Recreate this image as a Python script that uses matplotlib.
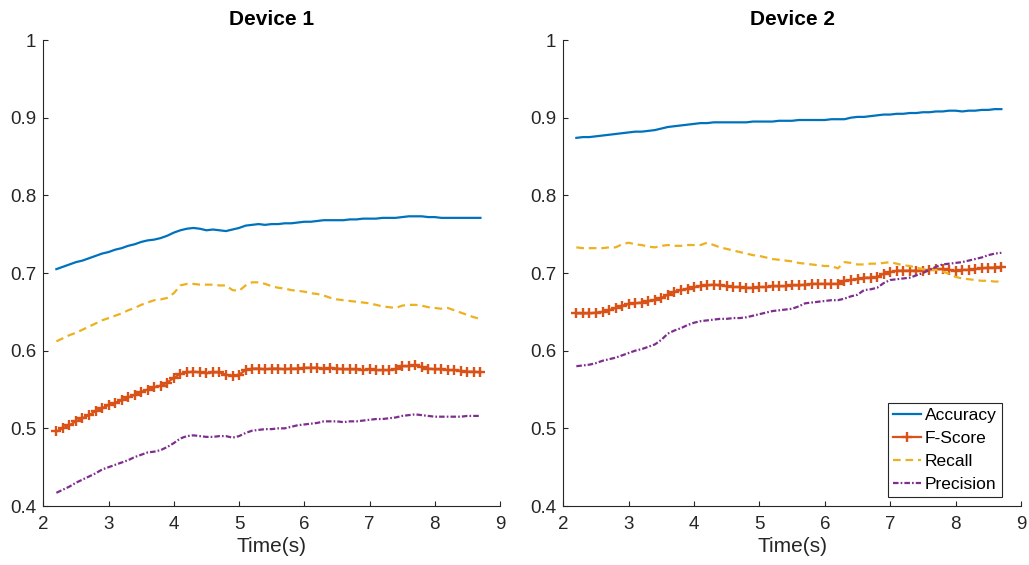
import numpy as np
import matplotlib
matplotlib.use("Agg")
import matplotlib.pyplot as plt

plt.rcParams["font.family"] = ["Liberation Sans", "DejaVu Sans"]
plt.rcParams["lines.scale_dashes"] = False

# sample times (s)
time = np.round(np.arange(2.2, 8.75, 0.1), 1)

# Device 1
acc1 = [0.705, 0.708, 0.711, 0.714, 0.716, 0.719, 0.722, 0.725, 0.727, 0.730,
        0.732, 0.735, 0.737, 0.740, 0.742, 0.743, 0.745, 0.748, 0.752, 0.755,
        0.757, 0.758, 0.757, 0.755, 0.756, 0.755, 0.754, 0.756, 0.758, 0.761,
        0.762, 0.763, 0.762, 0.763, 0.763, 0.764, 0.764, 0.765, 0.766, 0.766,
        0.767, 0.768, 0.768, 0.768, 0.768, 0.769, 0.769, 0.770, 0.770, 0.770,
        0.771, 0.771, 0.771, 0.772, 0.773, 0.773, 0.773, 0.772, 0.772, 0.771,
        0.771, 0.771, 0.771, 0.771, 0.771, 0.771]
fs1 = [0.496, 0.500, 0.504, 0.509, 0.513, 0.517, 0.522, 0.526, 0.530, 0.533,
       0.536, 0.540, 0.543, 0.547, 0.550, 0.553, 0.555, 0.559, 0.565, 0.570,
       0.572, 0.573, 0.572, 0.571, 0.572, 0.572, 0.569, 0.568, 0.569, 0.575,
       0.577, 0.577, 0.576, 0.577, 0.577, 0.576, 0.577, 0.577, 0.578, 0.578,
       0.578, 0.577, 0.578, 0.577, 0.576, 0.576, 0.576, 0.575, 0.576, 0.575,
       0.575, 0.575, 0.576, 0.580, 0.580, 0.581, 0.579, 0.577, 0.576, 0.576,
       0.575, 0.575, 0.574, 0.573, 0.573, 0.572]
rec1 = [0.612, 0.616, 0.620, 0.623, 0.627, 0.631, 0.635, 0.639, 0.642, 0.645,
        0.648, 0.652, 0.655, 0.659, 0.662, 0.665, 0.666, 0.668, 0.674, 0.684,
        0.686, 0.686, 0.685, 0.685, 0.685, 0.684, 0.684, 0.678, 0.677, 0.684,
        0.688, 0.688, 0.686, 0.683, 0.681, 0.680, 0.678, 0.677, 0.676, 0.674,
        0.673, 0.671, 0.668, 0.666, 0.665, 0.664, 0.663, 0.662, 0.661, 0.659,
        0.657, 0.656, 0.655, 0.658, 0.659, 0.659, 0.658, 0.656, 0.655, 0.654,
        0.655, 0.652, 0.649, 0.646, 0.643, 0.641]
pre1 = [0.417, 0.421, 0.425, 0.430, 0.434, 0.438, 0.442, 0.447, 0.450, 0.453,
        0.456, 0.459, 0.463, 0.466, 0.469, 0.470, 0.472, 0.476, 0.481, 0.487,
        0.490, 0.491, 0.490, 0.489, 0.489, 0.490, 0.490, 0.488, 0.490, 0.494,
        0.497, 0.498, 0.499, 0.499, 0.500, 0.500, 0.502, 0.504, 0.505, 0.506,
        0.507, 0.509, 0.509, 0.509, 0.508, 0.509, 0.509, 0.510, 0.511, 0.512,
        0.512, 0.513, 0.514, 0.516, 0.517, 0.518, 0.517, 0.516, 0.515, 0.515,
        0.515, 0.515, 0.515, 0.516, 0.516, 0.516]

# Device 2
acc2 = [0.874, 0.875, 0.875, 0.876, 0.877, 0.878, 0.879, 0.880, 0.881, 0.882,
        0.882, 0.883, 0.884, 0.886, 0.888, 0.889, 0.890, 0.891, 0.892, 0.893,
        0.893, 0.894, 0.894, 0.894, 0.894, 0.894, 0.894, 0.895, 0.895, 0.895,
        0.895, 0.896, 0.896, 0.896, 0.897, 0.897, 0.897, 0.897, 0.897, 0.898,
        0.898, 0.898, 0.900, 0.901, 0.901, 0.902, 0.903, 0.904, 0.904, 0.905,
        0.905, 0.906, 0.906, 0.907, 0.907, 0.908, 0.908, 0.909, 0.909, 0.908,
        0.909, 0.909, 0.910, 0.910, 0.911, 0.911]
fs2 = [0.648, 0.648, 0.648, 0.649, 0.650, 0.652, 0.655, 0.658, 0.660, 0.661,
       0.662, 0.664, 0.665, 0.668, 0.672, 0.676, 0.678, 0.680, 0.682, 0.683,
       0.684, 0.685, 0.684, 0.683, 0.682, 0.682, 0.681, 0.681, 0.682, 0.682,
       0.683, 0.683, 0.683, 0.684, 0.684, 0.685, 0.686, 0.686, 0.686, 0.686,
       0.686, 0.690, 0.691, 0.692, 0.694, 0.694, 0.695, 0.699, 0.701, 0.703,
       0.703, 0.703, 0.703, 0.703, 0.704, 0.705, 0.705, 0.704, 0.703, 0.704,
       0.704, 0.705, 0.706, 0.707, 0.707, 0.708]
rec2 = [0.733, 0.732, 0.732, 0.732, 0.732, 0.733, 0.733, 0.737, 0.739, 0.737,
        0.736, 0.734, 0.733, 0.735, 0.736, 0.735, 0.735, 0.736, 0.736, 0.736,
        0.739, 0.736, 0.733, 0.731, 0.729, 0.727, 0.725, 0.723, 0.722, 0.720,
        0.718, 0.717, 0.716, 0.715, 0.713, 0.712, 0.711, 0.710, 0.709, 0.709,
        0.706, 0.714, 0.713, 0.711, 0.711, 0.712, 0.712, 0.713, 0.714, 0.712,
        0.710, 0.709, 0.707, 0.705, 0.704, 0.704, 0.702, 0.699, 0.695, 0.693,
        0.692, 0.691, 0.690, 0.690, 0.689, 0.689]
pre2 = [0.580, 0.581, 0.582, 0.584, 0.587, 0.589, 0.591, 0.594, 0.597, 0.600,
        0.602, 0.605, 0.608, 0.614, 0.622, 0.626, 0.629, 0.633, 0.636, 0.638,
        0.639, 0.640, 0.641, 0.641, 0.642, 0.642, 0.643, 0.645, 0.647, 0.649,
        0.651, 0.652, 0.653, 0.654, 0.657, 0.661, 0.662, 0.663, 0.664, 0.665,
        0.665, 0.667, 0.670, 0.672, 0.678, 0.679, 0.681, 0.687, 0.691, 0.692,
        0.693, 0.694, 0.697, 0.700, 0.704, 0.708, 0.711, 0.712, 0.713, 0.714,
        0.716, 0.718, 0.720, 0.723, 0.725, 0.726]

devices = ["Device 1", "Device 2"]
series = [(acc1, fs1, rec1, pre1), (acc2, fs2, rec2, pre2)]
names = ["Accuracy", "F-Score", "Recall", "Precision"]

ink = "#262626"
fig = plt.figure(figsize=(10.29, 5.65), dpi=100)
boxes = [[0.0421, 0.1044, 0.4438, 0.8248], [0.5474, 0.1044, 0.4448, 0.8248]]

for box, title, (acc, fs, rec, pre) in zip(boxes, devices, series):
    ax = fig.add_axes(box)
    ax.plot(time, acc, color="#0072BD", lw=1.6, label=names[0])
    ax.plot(time, fs, color="#D95319", lw=1.6, marker="+", ms=7, mew=1.7,
            label=names[1])
    ax.plot(time, rec, color="#EDB120", lw=1.6, dashes=(5.5, 3.5),
            label=names[2])
    ax.plot(time, pre, color="#7E2F8E", lw=1.6, dashes=(4, 1.5, 1.2, 1.5),
            label=names[3])
    ax.set_xlim(2, 9)
    ax.set_ylim(0.4, 1)
    ax.set_xticks(range(2, 10))
    ax.set_yticks([0.4, 0.5, 0.6, 0.7, 0.8, 0.9, 1.0])
    ax.set_yticklabels(["0.4", "0.5", "0.6", "0.7", "0.8", "0.9", "1"])
    ax.spines["top"].set_visible(False)
    ax.spines["right"].set_visible(False)
    for s in ("left", "bottom"):
        ax.spines[s].set_color(ink)
        ax.spines[s].set_linewidth(0.8)
    ax.tick_params(direction="in", length=3.5, width=0.8, colors=ink,
                   labelsize=13.5)
    ax.tick_params(axis="x", pad=7)
    ax.tick_params(axis="y", pad=5)
    ax.set_title(title, fontsize=15, fontweight="bold", color="black", pad=11)
    ax.set_xlabel("Time(s)", fontsize=15, color=ink, labelpad=3)

leg = ax.legend(loc="lower right", bbox_to_anchor=(0.958, 0.019),
                fontsize=12.5, frameon=True, fancybox=False, framealpha=1,
                edgecolor=ink, borderpad=0.3, labelspacing=0.45,
                handlelength=1.6, handletextpad=0.2, borderaxespad=0)
leg.get_frame().set_linewidth(0.8)
for t in leg.get_texts():
    t.set_color("black")

fig.savefig("out.png", dpi=100)
